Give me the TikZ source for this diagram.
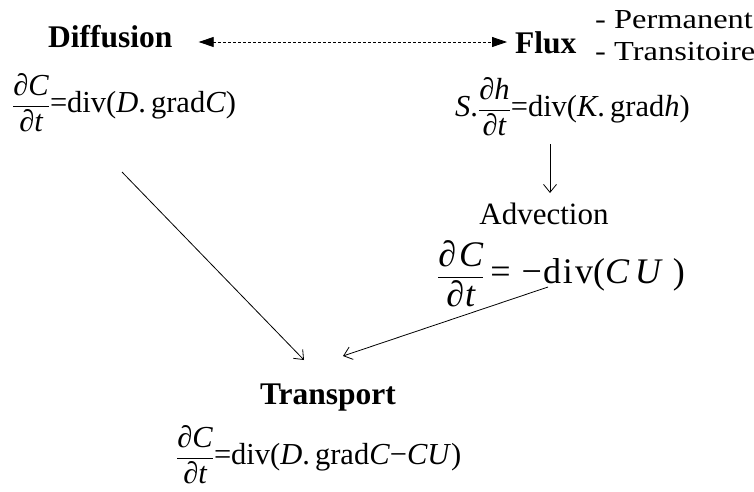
\documentclass[tikz,border=0pt]{standalone}
\usepackage{fontspec}
\usepackage{amsmath}
\setmainfont{Liberation Serif}
\newfontfamily\sidefont{Liberation Serif}[FakeStretch=1.18]
\usetikzlibrary{arrows.meta}
\tikzset{
  lab/.style={inner sep=0pt, font=\fontsize{31.5}{36}\selectfont\bfseries},
  sidenote/.style={inner sep=0pt, font=\sidefont\fontsize{27.5}{32}\selectfont},
  advlab/.style={inner sep=0pt, font=\fontsize{31}{36}\selectfont},
  eqn/.style={inner sep=0pt, font=\fontsize{30.5}{36}\selectfont},
  adveqn/.style={inner sep=0pt, font=\fontsize{36}{42}\selectfont},
  arr/.style={-{Straight Barb[length=8pt,width=13pt]}, line width=0.8pt},
  dash2/.style={{Triangle[length=15pt,width=10pt]}-{Triangle[length=15pt,width=10pt]}, line width=0.8pt, dash pattern=on 3pt off 2pt}
}
\begin{document}
\begin{tikzpicture}[x=1pt,y=-1pt]
\useasboundingbox (0,0) rectangle (754,491);
% labels
\node[lab, anchor=base west] (diff) at (48,47) {Diffusion};
\node[lab, anchor=base west] (flux) at (515,53) {Flux};
\node[sidenote, anchor=base west] (perm) at (595,28) {- Permanent};
\node[sidenote, anchor=base west] (trans) at (595,60) {- Transitoire};
\node[advlab] (adv) at (544,214) {Advection};
\node[lab] (trsp) at (328,398) {Transport};
% equations
\node[eqn, anchor=west] (deq) at (12,103)
  {$\dfrac{\textit{∂C}}{\textit{∂t}}$=div(\textit{D}.\,grad\textit{C})};
\node[eqn, anchor=west] (feq) at (455,107)
  {\textit{S}.$\dfrac{\textit{∂h}}{\textit{∂t}}$=div(\textit{K}.\,grad\textit{h})};
\node[adveqn, anchor=west] (aeq) at (437,274)
  {$\dfrac{\textit{∂\kern3pt C}}{\textit{∂\kern1pt t}}$\kern6pt=\kern11pt−\kern1pt d\kern2pt i\kern2pt v(\textit{C\kern6pt U}\kern10pt)};
\node[eqn, anchor=west] (teq) at (176,455)
  {$\dfrac{\textit{∂C}}{\textit{∂t}}$=div(\textit{D}.\,grad\textit{C}−\textit{CU})};
% connector end points
\coordinate (d1) at (122,172);
\coordinate (t1) at (304,360);
\coordinate (a1) at (548,287);
\coordinate (t2) at (343,356);
\coordinate (f1) at (550,144);
\coordinate (a0) at (550,193);
% connectors
\draw[dash2] ([xshift=26pt,yshift=5pt]diff.base east) -- ([xshift=-8pt,yshift=11pt]flux.base west);
\draw[arr] (d1) -- (t1);
\draw[arr] (a1) -- (t2);
\draw[arr] (f1) -- (a0);
\end{tikzpicture}
\end{document}
